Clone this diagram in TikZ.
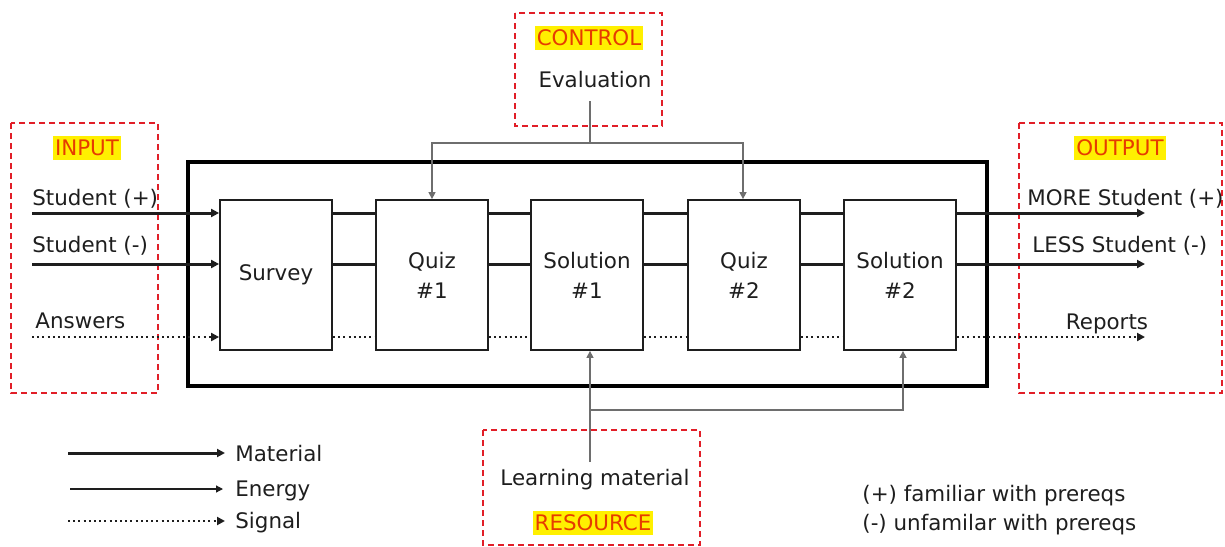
\documentclass[tikz,border=0pt]{standalone}
\usepackage{fontspec}
\setmainfont{DejaVu Sans}
\usetikzlibrary{arrows.meta,calc}
\definecolor{redbox}{RGB}{225,30,40}
\definecolor{hl}{RGB}{255,240,0}
\definecolor{hltext}{RGB}{230,60,0}
\definecolor{ink}{RGB}{30,30,30}
\definecolor{thin}{RGB}{110,110,110}
\begin{document}
\begin{tikzpicture}[x=0.5pt,y=-0.5pt, font=\fontsize{10.7}{15}\selectfont, text=ink,
 zone/.style={draw=redbox, dash pattern=on 3pt off 2pt, line width=1.1pt},
 hilite/.style={fill=hl, text=hltext, inner xsep=1pt, inner ysep=2pt},
 blk/.style={draw=ink, line width=0.9pt, minimum width=56pt, minimum height=75pt, align=center, fill=white, inner sep=0pt},
 mat/.style={line width=1.5pt, draw=ink},
 mata/.style={mat, -{Triangle[length=4pt,width=4pt]}},
 ene/.style={line width=0.7pt, draw=thin, -{Triangle[length=3.5pt,width=3.5pt]}},
 enel/.style={line width=0.7pt, draw=thin},
 sig/.style={line width=1pt, dash pattern=on 1pt off 1.6pt, draw=ink},
 siga/.style={sig, -{Triangle[length=4pt,width=4pt]}},
 lbl/.style={anchor=base west, inner sep=0pt}
]
\useasboundingbox (0,0) rectangle (1225,546);

% dashed zones
\draw[zone] (11,123) rectangle (158,393);
\draw[zone] (515,13) rectangle (662,126);
\draw[zone] (1019,123) rectangle (1222,393);
\draw[zone] (483,430) rectangle (700,545);

\node[hilite] (inp) at (87,148) {INPUT};
\node[hilite] (ctl) at (589,38) {CONTROL};
\node[hilite] (outp) at (1120,148) {OUTPUT};
\node[hilite] (res) at (593,523) {RESOURCE};
\node (eval) at (595,80) {Evaluation};
\node (lmat) at (595,480) {Learning material};

% system boundary
\node[draw=black, line width=2pt, minimum width=399.5pt, minimum height=112pt, inner sep=0pt] (sys) at (587.5,274) {};

% input / output coordinates
\coordinate (in1) at (32,213);
\coordinate (in2) at (32,264);
\coordinate (in3) at (32,337);
\coordinate (out1) at (1145,213);
\coordinate (out2) at (1145,264);
\coordinate (out3) at (1145,337);

% blocks
\node[blk] (survey) at (276,275) {Survey};
\node[blk] (quiz1) at (432,275) {Quiz\\\#1};
\node[blk] (sol1) at (587,275) {Solution\\\#1};
\node[blk] (quiz2) at (744,275) {Quiz\\\#2};
\node[blk] (sol2) at (900,275) {Solution\\\#2};

% inputs
\draw[mata] (in1) -- (survey.west |- in1);
\draw[mata] (in2) -- (survey.west |- in2);
\draw[siga] (in3) -- (survey.west |- in3);

% chain
\foreach \a/\b in {survey/quiz1, quiz1/sol1, sol1/quiz2, quiz2/sol2}{
  \draw[mat] (\a.east |- in1) -- (\b.west |- in1);
  \draw[mat] (\a.east |- in2) -- (\b.west |- in2);
  \draw[sig] (\a.east |- in3) -- (\b.west |- in3);
}

% outputs
\draw[mata] (sol2.east |- out1) -- (out1);
\draw[mata] (sol2.east |- out2) -- (out2);
\draw[siga] (sol2.east |- out3) -- (out3);

% labels
\node[lbl] (lsp) at (32,205) {Student (+)};
\node[lbl] (lsm) at (32,252) {Student (-)};
\node[lbl] (lans) at (35,328) {Answers};
\node[lbl] (lmore) at (1027,205) {MORE Student (+)};
\node[lbl] (lless) at (1032,252) {LESS Student (-)};
\node[anchor=base, inner sep=0pt] (lrep) at (1107,329) {Reports};

% control
\coordinate (evb) at (590,101);
\coordinate (evj) at (590,143);
\draw[enel] (evb) -- (evj);
\draw[ene] (evj) -| (quiz1.north);
\draw[ene] (evj) -| (quiz2.north -| 743,0);

% resource
\coordinate (rsb) at (590,462);
\coordinate (rsj) at (590,410);
\draw[ene] (rsb) -- (sol1.south -| rsb);
\draw[ene] (rsj) -| (sol2.south -| 903,0);

% legend
\coordinate (lg1a) at (68,453);
\coordinate (lg2a) at (70,489);
\coordinate (lg3a) at (68,521);
\node[lbl] (lgm) at (235,461) {Material};
\node[lbl] (lge) at (235,496) {Energy};
\node[lbl] (lgs) at (235,528) {Signal};
\draw[mata] (lg1a) -- ([xshift=-5pt]lgm.west |- lg1a);
\draw[line width=0.6pt, draw=ink, -{Triangle[length=3.5pt,width=3.5pt]}] (lg2a) -- ([xshift=-6pt]lge.west |- lg2a);
\draw[siga] (lg3a) -- ([xshift=-5pt]lgs.west |- lg3a);

% notes
\node[lbl] (n1) at (862,501) {(+) familiar with prereqs};
\node[lbl] (n2) at (862,530) {(-) unfamilar with prereqs};
\end{tikzpicture}
\end{document}
